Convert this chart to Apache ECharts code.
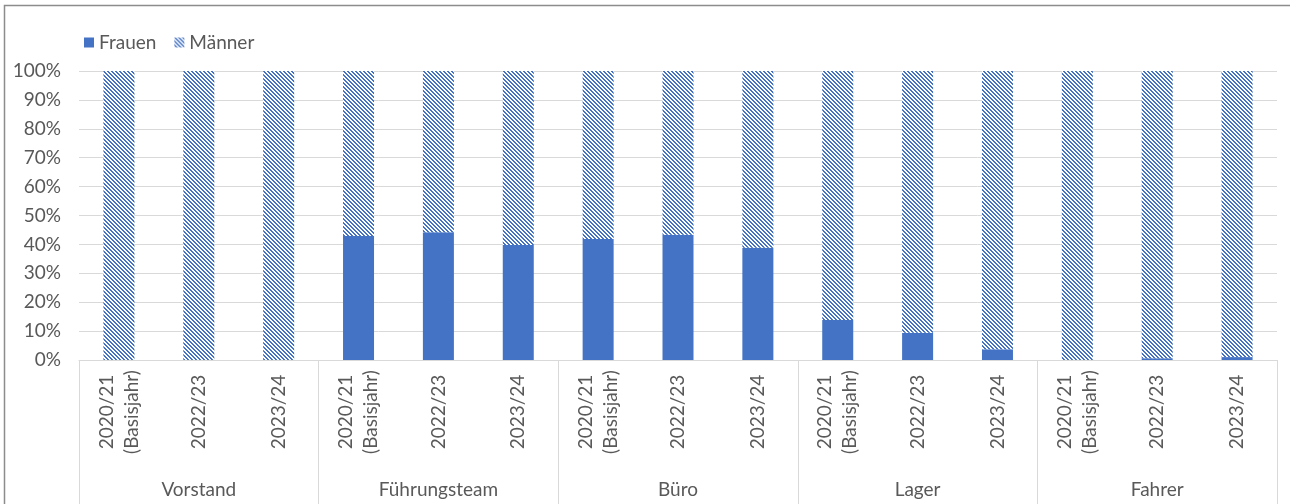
<!DOCTYPE html>
<html>
<head>
<meta charset="utf-8">
<script src="https://cdn.jsdelivr.net/npm/echarts@6/dist/echarts.min.js"></script>
<style>
  html, body { margin: 0; padding: 0; background: #fff; }
  #main { width: 1290px; height: 504px; }
</style>
</head>
<body>
<div id="main"></div>
<script>
const years = ['2020/21\n(Basisjahr)', '2022/23', '2023/24'];
const groups = ['Vorstand', 'Führungsteam', 'Büro', 'Lager', 'Fahrer'];
const frauen = [0, 0, 0, 42.9, 44.2, 39.8, 41.9, 43.3, 38.8, 13.8, 9.4, 3.7, 0, 0.6, 1.0];
const maenner = frauen.map(v => 100 - v);

// one label per bar: the three years repeat in each group
const categories = [];
groups.forEach(() => years.forEach(y => categories.push(y)));

// hatched fill like the Excel "dark downward diagonal" pattern
function hatch() {
  const c = document.createElement('canvas');
  c.width = 4; c.height = 4;
  const ctx = c.getContext('2d');
  ctx.fillStyle = '#ffffff';
  ctx.fillRect(0, 0, 4, 4);
  ctx.fillStyle = '#4472C4';
  for (let y = 0; y < 4; y++) {
    for (let x = 0; x < 4; x++) {
      if (((x - y) % 4 + 4) % 4 < 2) ctx.fillRect(x, y, 1, 1);
    }
  }
  return c;
}

const font = 'Lato';
const grey = '#595959';
const line = '#d9d9d9';

const chart = echarts.init(document.getElementById('main'));
chart.setOption({
  animation: false,
  textStyle: { fontFamily: font },
  legend: {
    left: 79, top: 28, icon: 'rect',
    itemWidth: 10, itemHeight: 10, itemGap: 18,
    textStyle: { fontSize: 19, color: grey, fontFamily: font },
    data: ['Frauen', 'Männer']
  },
  grid: { left: 79, right: 13, top: 71, bottom: 144 },
  xAxis: [{
    type: 'category',
    data: categories,
    axisLine: { lineStyle: { color: line } },
    axisTick: { show: false },
    axisLabel: {
      interval: 0, rotate: 90, align: 'center', margin: 52,
      fontSize: 19, lineHeight: 25, color: grey, fontFamily: font
    }
  }, {
    type: 'category',
    data: groups,
    position: 'bottom',
    axisLine: { show: false },
    axisTick: { show: true, interval: 0, length: 144, lineStyle: { color: line } },
    axisLabel: { interval: 0, margin: 120, fontSize: 19, color: grey, fontFamily: font }
  }],
  yAxis: {
    type: 'value', min: 0, max: 100, interval: 10,
    axisLabel: { formatter: '{value}%', fontSize: 19, color: grey, margin: 18, fontFamily: font },
    splitLine: { lineStyle: { color: line } },
    axisLine: { show: false }, axisTick: { show: false }
  },
  series: [{
    name: 'Frauen', type: 'bar', stack: 'a', barWidth: 31,
    data: frauen,
    itemStyle: { color: '#4472C4' }
  }, {
    name: 'Männer', type: 'bar', stack: 'a', barWidth: 31,
    data: maenner,
    itemStyle: { color: { image: hatch(), repeat: 'repeat' } }
  }],
  graphic: [{
    type: 'rect', silent: true,
    shape: { x: 4.5, y: 5.5, width: 1400, height: 600 },
    style: { fill: null, stroke: '#8c8c8c', lineWidth: 1.5 }
  }]
});
</script>
</body>
</html>
